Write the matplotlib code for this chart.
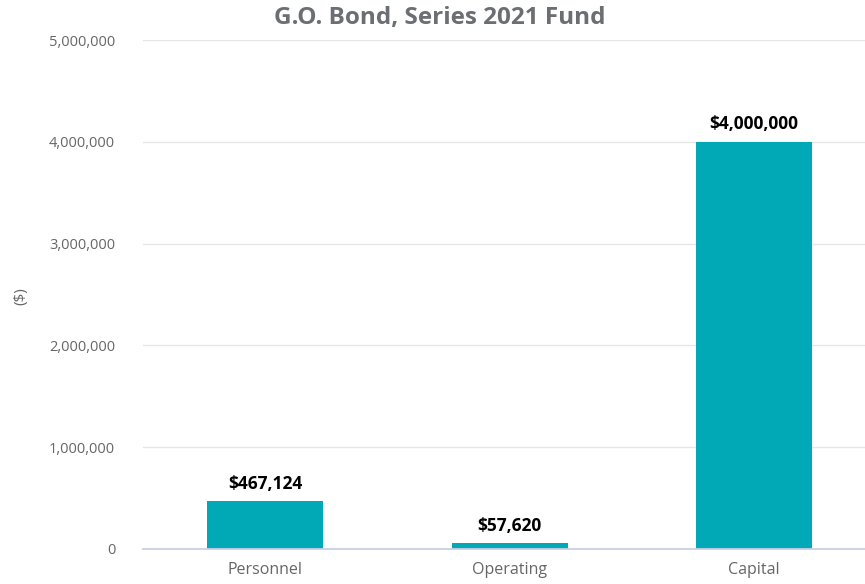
import matplotlib
matplotlib.use("Agg")
import matplotlib.pyplot as plt
from matplotlib.ticker import FuncFormatter

categories = ["Personnel", "Operating", "Capital"]
amounts = [467124, 57620, 4000000]
y_ticks = [0, 1000000, 2000000, 3000000, 4000000, 5000000]

plt.rcParams["font.family"] = ["Open Sans", "DejaVu Sans"]

W, H = 865, 584
fig = plt.figure(figsize=(W / 100, H / 100), dpi=100)
# plot area in pixels: x 143..865, y 40..549
ax = fig.add_axes([143 / W, 1 - 549 / H, (865 - 143) / W, (549 - 40) / H])

x = list(range(len(categories)))
ax.bar(x, amounts, width=0.474, color="#00a9b5", zorder=3)

ax.set_xlim(-0.5, 2.453)
ax.set_ylim(0, 5000000)
ax.set_yticks(y_ticks)
ax.yaxis.set_major_formatter(FuncFormatter(lambda v, p: f"{int(v):,}"))
ax.set_xticks(x)
ax.set_xticklabels(categories)

ax.grid(axis="y", color="#e6e6e6", linewidth=1, zorder=0)
for s in ["top", "right", "left"]:
    ax.spines[s].set_visible(False)
ax.spines["bottom"].set_color("#c8cfe6")
ax.spines["bottom"].set_linewidth(1.3)
ax.spines["bottom"].set_zorder(4)
ax.tick_params(axis="y", length=0, pad=20, labelsize=10.5, labelcolor="#666666")
ax.tick_params(axis="x", length=0, pad=9, labelsize=11.5, labelcolor="#666666")

for xi, v in zip(x, amounts):
    ax.annotate(f"${v:,}", (xi, v), xytext=(0, 6), textcoords="offset points",
                ha="center", va="bottom", fontsize=12.5, fontweight="bold",
                color="black")

fig.text(21 / W, 1 - 296 / H, "($)", rotation=90, ha="center", va="center",
         fontsize=11, color="#666666")
fig.text(440 / W, 1 - 18 / H, "G.O. Bond, Series 2021 Fund", ha="center",
         va="center", fontsize=17.5, fontweight="bold", color="#6b6e72")

fig.savefig("out.png", dpi=100)
